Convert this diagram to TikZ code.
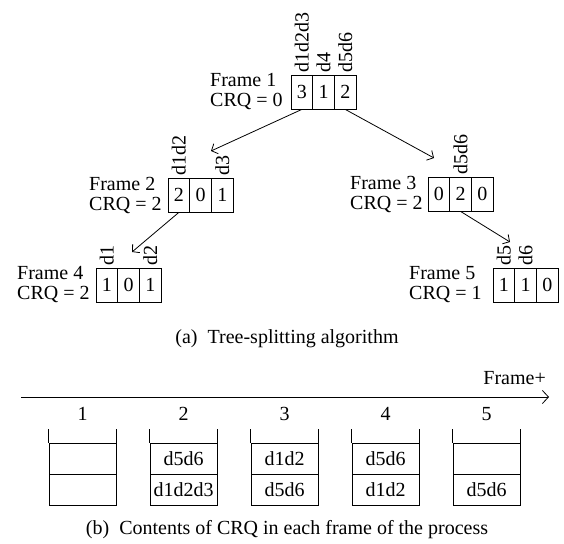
\documentclass[tikz,border=0pt]{standalone}
\usepackage{fontspec}
\setmainfont{Liberation Serif}
\usetikzlibrary{arrows.meta}
\begin{document}
\begin{tikzpicture}[x=1pt,y=-1pt,
  txt/.style={font=\fontsize{20}{20}\selectfont, inner sep=0pt},
  cell/.style={draw, line width=0.8pt, minimum width=21.7pt, minimum height=34pt, inner sep=0pt, font=\fontsize{20}{20}\selectfont},
  scell/.style={draw, line width=0.8pt, minimum width=67pt, minimum height=31pt, inner sep=0pt, font=\fontsize{20}{20}\selectfont},
  vlab/.style={rotate=90, anchor=west, inner sep=0pt, font=\fontsize{20}{20}\selectfont},
  flab/.style={anchor=west, align=left, inner sep=0pt, font=\fontsize{20}{20}\selectfont},
  link/.style={line width=0.8pt, -{Straight Barb[length=5pt,width=11pt]}},
  axisline/.style={line width=0.8pt, -{Straight Barb[length=6pt,width=13pt]}},
  tick/.style={line width=0.8pt}
]
\useasboundingbox (0,0) rectangle (564,543);

% Frame 1
\node[cell] (f1a) at (301.85,92) {3};
\node[cell] (f1b) at (323.55,92) {1};
\node[cell] (f1c) at (345.25,92) {2};
\node[vlab] (l1a) at ([yshift=2pt]f1a.north) {d1d2d3};
\node[vlab] (l1b) at ([yshift=2pt]f1b.north) {d4};
\node[vlab] (l1c) at ([yshift=2pt]f1c.north) {d5d6};
\node[flab] (t1) at (210,92) {Frame 1\\CRQ = 0};

% Frame 2
\node[cell] (f2a) at (178.85,195) {2};
\node[cell] (f2b) at (200.55,195) {0};
\node[cell] (f2c) at (222.25,195) {1};
\node[vlab] (l2a) at ([yshift=2pt]f2a.north) {d1d2};
\node[vlab] (l2c) at ([yshift=2pt]f2c.north) {d3};
\node[flab] (t2) at (89,195) {Frame 2\\CRQ = 2};

% Frame 3
\node[cell] (f3a) at (438.85,194) {0};
\node[cell] (f3b) at (460.55,194) {2};
\node[cell] (f3c) at (482.25,194) {0};
\node[vlab] (l3b) at ([yshift=2pt]f3b.north) {d5d6};
\node[flab] (t3) at (350,194) {Frame 3\\CRQ = 2};

% Frame 4
\node[cell] (f4a) at (106.85,285) {1};
\node[cell] (f4b) at (128.55,285) {0};
\node[cell] (f4c) at (150.25,285) {1};
\node[vlab] (l4a) at ([yshift=2pt]f4a.north) {d1};
\node[vlab] (l4c) at ([yshift=2pt]f4c.north) {d2};
\node[flab] (t4) at (17,285) {Frame 4\\CRQ = 2};

% Frame 5
\node[cell] (f5a) at (503.85,285) {1};
\node[cell] (f5b) at (525.55,285) {1};
\node[cell] (f5c) at (547.25,285) {0};
\node[vlab] (l5a) at ([yshift=2pt]f5a.north) {d5};
\node[vlab] (l5b) at ([yshift=2pt]f5b.north) {d6};
\node[flab] (t5) at (409,285) {Frame 5\\CRQ = 1};

% tree arrows
\coordinate (e1) at (211,151);
\coordinate (e2) at (434,158);
\coordinate (e3) at (132,252);
\coordinate (e4) at (510,242);
\draw[link] (f1a.south) -- (e1);
\draw[link] (f1c.south) -- (e2);
\draw[link] (f2a.south) -- (e3);
\draw[link] (f3b.south) -- (e4);

\node[txt] (capa) at (287,339) {(a)\enspace Tree-splitting algorithm};

% time axis
\coordinate (axs) at (21,397);
\coordinate (axe) at (549,397);
\draw[axisline] (axs) -- (axe);
\node[txt, anchor=east] (fp) at (546,378) {Frame+};

\node[txt] (n1) at (82.5,414) {1};
\node[txt] (n2) at (183.5,414) {2};
\node[txt] (n3) at (284.5,414) {3};
\node[txt] (n4) at (385.5,414) {4};
\node[txt] (n5) at (486.5,414) {5};

% stacks
\node[scell] (s1a) at (82.5,458.5) {};
\node[scell] (s1b) at (82.5,489.5) {};
\node[scell] (s2a) at (183.5,458.5) {d5d6};
\node[scell] (s2b) at (183.5,489.5) {d1d2d3};
\node[scell] (s3a) at (284.5,458.5) {d1d2};
\node[scell] (s3b) at (284.5,489.5) {d5d6};
\node[scell] (s4a) at (385.5,458.5) {d5d6};
\node[scell] (s4b) at (385.5,489.5) {d1d2};
\node[scell] (s5a) at (486.5,458.5) {};
\node[scell] (s5b) at (486.5,489.5) {d5d6};
\foreach \s in {s1a,s2a,s3a,s4a,s5a}{
  \draw[tick] (\s.north west) -- ++(0,-14);
  \draw[tick] (\s.north east) -- ++(0,-14);
}

\node[txt] (capb) at (287,530) {(b)\enspace Contents of CRQ in each frame of the process};
\end{tikzpicture}
\end{document}
